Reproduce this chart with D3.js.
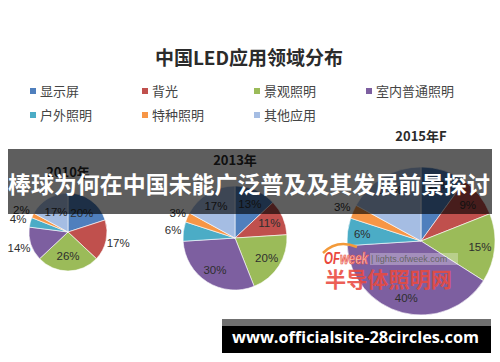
<!DOCTYPE html>
<html><head><meta charset="utf-8">
<script src="https://cdn.jsdelivr.net/npm/d3@7/dist/d3.min.js"></script>
<style>html,body{margin:0;padding:0;background:#fff;}svg{display:block;}</style>
</head><body>
<script>
// ---- data ----
const chartTitle = "中国LED应用领域分布";
const categories = ["显示屏","背光","景观照明","室内普通照明","户外照明","特种照明","其他应用"];
const years = ["2010年","2013年","2015年F"];
const share2010 = [20,17,26,14,4,2,17];
const share2013 = [13,11,20,30,6,3,17];
const share2015 = [10,9,15,40,6,3,17];
const bannerText = "棒球为何在中国未能广泛普及及其发展前景探讨";
const footerText = "www.officialsite-28circles.com";

// ---- layout / style ----
const W = 500, H = 362;
const colors = ["#4f7fbd","#c0504d","#9bbb59","#7d5fa0","#4bacc6","#f79646","#a5bde3"];
const pies = [
  {year: years[0], values: share2010, cx: 68,  cy: 232, r: 39, inF: 0.6,  outF: 1.32, outside: [1,3,4,5], titleGap: 21},
  {year: years[1], values: share2013, cx: 235, cy: 238, r: 52, inF: 0.72, outF: 1.2,  outside: [4,5], titleGap: 26},
  {year: years[2], values: share2015, cx: 421, cy: 241, r: 74, inF: 0.8,  outF: 1.16, outside: [5], titleGap: 31}
];
const cjk = "'Noto Sans CJK SC','Noto Sans',sans-serif";
const lat = "'Liberation Sans','DejaVu Sans',sans-serif";

const svg = d3.select("body").append("svg").attr("width", W).attr("height", H);
svg.append("rect").attr("width", W).attr("height", H).attr("fill", "#fff");

// title
svg.append("text").attr("x", 249).attr("y", 65).attr("text-anchor", "middle")
  .attr("font-family", cjk).attr("font-weight", 700).attr("font-size", 19)
  .attr("fill", "#2b2b2b").text(chartTitle);

// legend
const legX = d3.scalePoint().domain([0,1,2,3]).range([30, 366]);
const legY = d3.scalePoint().domain([0,1]).range([91, 115]);
const leg = svg.append("g").selectAll("g").data(categories).join("g")
  .attr("transform", (d,i) => `translate(${legX(i%4)},${legY(Math.floor(i/4))})`);
leg.append("rect").attr("x", 0).attr("y", -3).attr("width", 6).attr("height", 6)
  .attr("fill", (d,i) => colors[i]);
leg.append("text").attr("x", 10).attr("y", 0).attr("dy", "0.36em")
  .attr("font-family", cjk).attr("font-size", 13).attr("fill", "#444").text(d => d);

// pies
const pieGen = d3.pie().sort(null).value(d => d);
pies.forEach(p => {
  const g = svg.append("g").attr("transform", `translate(${p.cx},${p.cy})`);
  const arcs = pieGen(p.values);
  const arc = d3.arc().innerRadius(0).outerRadius(p.r);
  g.selectAll("path").data(arcs).join("path")
    .attr("d", arc).attr("fill", (d,i) => colors[i])
    .attr("stroke", "#fff").attr("stroke-width", 0.6);
  g.selectAll("text.lab").data(arcs).join("text").attr("class", "lab")
    .attr("transform", (d,i) => {
      const f = p.outside.includes(i) ? p.outF : p.inF;
      const a = (d.startAngle + d.endAngle) / 2;
      return `translate(${Math.sin(a)*p.r*f},${-Math.cos(a)*p.r*f})`;
    })
    .attr("text-anchor", "middle").attr("dy", "0.36em")
    .attr("font-family", lat).attr("font-size", 11.5).attr("fill", "#2e2e2e")
    .text(d => d.value + "%");
  svg.append("text").attr("x", p.cx).attr("y", p.cy - p.r - p.titleGap).attr("dy", "0.36em")
    .attr("text-anchor", "middle").attr("font-family", cjk).attr("font-weight", 700)
    .attr("font-size", 13).attr("fill", "#2b2b2b").text(p.year);
});

// watermark
const wm = svg.append("g");
wm.append("path").attr("d", "M323,253 Q337,239 357,247").attr("fill", "none")
  .attr("stroke", "#f39a3a").attr("stroke-width", 2.5);
const of = wm.append("text").attr("x", 324).attr("y", 264).attr("font-family", lat)
  .attr("font-weight", 700).attr("font-style", "italic").attr("font-size", 16)
  .attr("textLength", 44).attr("lengthAdjust", "spacingAndGlyphs");
of.append("tspan").attr("fill", "#e9483c").text("OF");
of.append("tspan").attr("fill", "#f6c3bd").attr("stroke", "#e9483c").attr("stroke-width", 0.7).text("week");
wm.append("rect").attr("x", 370).attr("y", 253).attr("width", 88).attr("height", 12)
  .attr("fill", "#fff").attr("opacity", 0.3);
wm.append("text").attr("x", 371).attr("y", 262).attr("font-family", lat)
  .attr("font-size", 9).attr("fill", "#666").text("| lights.ofweek.com");
wm.append("text").attr("x", 325).attr("y", 287).attr("font-family", cjk)
  .attr("font-weight", 700).attr("font-size", 21).attr("fill", "#ea4a3f")
  .attr("opacity", 0.88).attr("textLength", 127).attr("lengthAdjust", "spacingAndGlyphs")
  .text("半导体照明网");

// banner overlay
svg.append("rect").attr("x", 8).attr("y", 149).attr("width", 484).attr("height", 65)
  .attr("fill", "#000").attr("opacity", 0.63);
svg.append("text").attr("x", 8).attr("y", 193).attr("font-family", cjk)
  .attr("font-weight", 700).attr("font-size", 23).attr("fill", "#fff")
  .attr("textLength", 482).attr("lengthAdjust", "spacingAndGlyphs").text(bannerText);

// footer
svg.append("rect").attr("x", 222).attr("y", 319).attr("width", 269).attr("height", 7).attr("fill", "#707070");
svg.append("rect").attr("x", 222).attr("y", 326).attr("width", 269).attr("height", 27).attr("fill", "#000");
svg.append("text").attr("x", 232).attr("y", 343).attr("font-family", "'Open Sans','Noto Sans',sans-serif")
  .attr("font-weight", 700).attr("font-size", 16).attr("fill", "#fff")
  .attr("textLength", 247).attr("lengthAdjust", "spacingAndGlyphs").text(footerText);
</script>
</body></html>
